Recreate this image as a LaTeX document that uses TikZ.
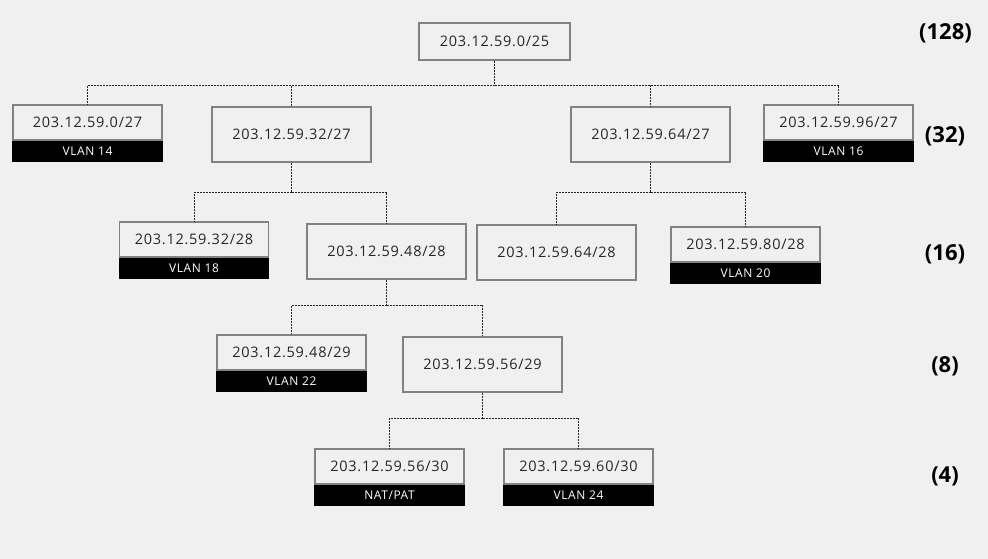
\documentclass[tikz,border=0pt]{standalone}
\usepackage{fontspec}
\setmainfont{Open Sans}
\newfontfamily\netfont[LetterSpace=5]{Open Sans}
\usetikzlibrary{positioning}
\definecolor{bg}{HTML}{F0F0F0}
\definecolor{edge}{HTML}{828282}
\definecolor{ink}{HTML}{262626}

\begin{document}
\begin{tikzpicture}[x=1pt, y=-1pt,
      subnet/.style ={rectangle, draw=edge, line width=1.2pt, fill=bg, minimum width=159pt, minimum height=55pt, inner sep=0pt, text=ink, font=\netfont\fontsize{14.5}{18}\selectfont},
      leaf/.style ={subnet, minimum width=149pt, minimum height=35pt},
      vlan/.style ={rectangle, draw=black, fill=black, line width=1.2pt, minimum width=149pt, minimum height=20pt, inner sep=0pt, text=white, font=\netfont\fontsize{12}{14}\selectfont},
      size/.style ={text=black, font=\bfseries\fontsize{22}{26}\selectfont},
      bus/.style ={draw=ink, line width=0.9pt, dash pattern=on 2pt off 1pt},
      node distance=0pt
    ]
    \fill [bg] (0,0) rectangle (988,559) ;
    \useasboundingbox (0,0) rectangle (988,559) ;

    % /25
    \node [subnet, minimum width=151pt, minimum height=37pt] (root) at (494.5,41.5) {203.12.59.0/25} ;
    % /27
    \node [leaf] (a0) at (87.5,122.5) {203.12.59.0/27} ;
    \node [vlan] (v14) [below=of a0] {VLAN 14} ;
    \node [subnet] (a32) at (291.5,134.5) {203.12.59.32/27} ;
    \node [subnet] (a64) at (650.5,134.5) {203.12.59.64/27} ;
    \node [leaf] (a96) at (838.5,122.5) {203.12.59.96/27} ;
    \node [vlan] (v16) [below=of a96] {VLAN 16} ;
    % /28
    \node [leaf] (b32) at (194,239.5) {203.12.59.32/28} ;
    \node [vlan] (v18) [below=of b32] {VLAN 18} ;
    \node [subnet] (b48) at (386.5,251.5) {203.12.59.48/28} ;
    \node [subnet] (b64) at (556.5,252.5) {203.12.59.64/28} ;
    \node [leaf] (b80) at (745.5,244.5) {203.12.59.80/28} ;
    \node [vlan] (v20) [below=of b80] {VLAN 20} ;
    % /29
    \node [leaf] (c48) at (291.5,352.5) {203.12.59.48/29} ;
    \node [vlan] (v22) [below=of c48] {VLAN 22} ;
    \node [subnet] (c56) at (482.5,364.5) {203.12.59.56/29} ;
    % /30
    \node [leaf] (d56) at (389.5,466.5) {203.12.59.56/30} ;
    \node [vlan] (nat) [below=of d56] {NAT/PAT} ;
    \node [leaf] (d60) at (578.5,466.5) {203.12.59.60/30} ;
    \node [vlan] (v24) [below=of d60] {VLAN 24} ;

    % block sizes
    \node [size] (n128) at (945.5,33) {(128)} ;
    \node [size] (n32) at (945,136) {(32)} ;
    \node [size] (n16) at (945,254) {(16)} ;
    \node [size] (n8) at (945,366) {(8)} ;
    \node [size] (n4) at (945,476) {(4)} ;

    \coordinate (j0) at (494.5,85) ;
    \coordinate (j32) at (291.5,192) ;
    \coordinate (j64) at (650.5,192) ;
    \coordinate (j48) at (386.5,305) ;
    \coordinate (j56) at (482.5,418) ;

    \draw [bus] (root) -- (j0) ;
    \draw [bus] (j0) -| (a0) ;
    \draw [bus] (j0) -| (a32) ;
    \draw [bus] (j0) -| (a64) ;
    \draw [bus] (j0) -| (a96) ;
    \draw [bus] (a32) -- (j32) ;
    \draw [bus] (j32) -| (b32) ;
    \draw [bus] (j32) -| (b48) ;
    \draw [bus] (a64) -- (j64) ;
    \draw [bus] (j64) -| (b64) ;
    \draw [bus] (j64) -| (b80) ;
    \draw [bus] (b48) -- (j48) ;
    \draw [bus] (j48) -| (c48) ;
    \draw [bus] (j48) -| (c56) ;
    \draw [bus] (c56) -- (j56) ;
    \draw [bus] (j56) -| (d56) ;
    \draw [bus] (j56) -| (d60) ;
  \end{tikzpicture}
\end{document}
